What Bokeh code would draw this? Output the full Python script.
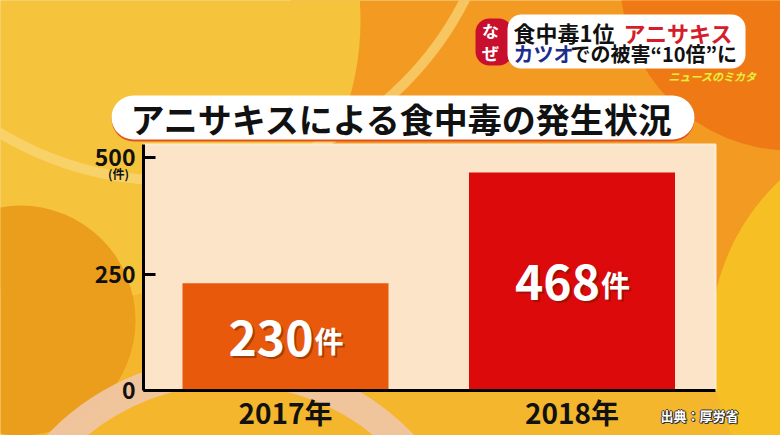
from bokeh.plotting import figure
from bokeh.models import ColumnDataSource, FixedTicker, LinearAxis
from bokeh.core.properties import value
from bokeh.embed import file_html
from bokeh.resources import INLINE

# ---- data ----
years = ["2017年", "2018年"]
cases = [230, 468]
y_ticks = [0, 250, 500]
unit = "件"
title_text = "アニサキスによる食中毒の発生状況"
source_text = "出典：厚労省"

BAR_COLORS = ["#E8590C", "#DC0A0A"]
FONT = value("Noto Sans CJK JP")

W, H = 780, 435
# reference-pixel -> data helpers (for decoration placement)
X0, XS = 285.0, 286.5
Y0, YS = 390.0, 0.466
def dx(X):
    return (X - X0) / XS
def dy(Y):
    return (Y0 - Y) / YS

p = figure(width=W, height=H, x_range=(dx(0), dx(W)), y_range=(dy(H), dy(0)),
           output_backend="svg", toolbar_location=None, min_border=0,
           x_axis_type=None, y_axis_type=None)
p.outline_line_color = None
p.background_fill_color = "#F4B62C"
p.border_fill_color = "#F4B62C"

# ---- decorative background ----
def disc(X, Y, R, color, alpha=1.0):
    p.scatter(x=[dx(X)], y=[dy(Y)], size=2 * R, fill_color=color, fill_alpha=alpha,
              line_color=None)
def ring(X, Y, R, color, w, alpha=1.0):
    p.scatter(x=[dx(X)], y=[dy(Y)], size=2 * R, fill_color=None, line_color=color,
              line_width=w, line_alpha=alpha)

disc(620, 20, 330, "#F29A22")
disc(80, 20, 280, "#F6C43C")
ring(170, -150, 330, "#F9D97A", 10, 0.7)
disc(790, -20, 170, "#EF7A15")
disc(930, 340, 220, "#F6BF24")
disc(20, 320, 115, "#EA9E1C")
ring(230, 610, 240, "#F1C7A8", 28, 0.9)

# ---- plot panel ----
p.quad(left=[dx(143)], right=[dx(715)], bottom=[0], top=[dy(144)],
       fill_color="#FBE4C8", line_color="#FCEBD6", line_width=2)

# ---- bars ----
xs = list(range(len(years)))
src = ColumnDataSource(dict(
    x=xs, top=cases, color=BAR_COLORS, mid=[c / 2 for c in cases],
    num=[str(c) for c in cases], unit=[unit] * len(cases)))
p.vbar(x="x", top="top", bottom=0, width=(388 - 182) / XS, fill_color="color",
       line_color=None, source=src)

for off, col, alpha in [(2, "#5a1a00", 0.45), (0, "white", 1.0)]:
    p.text(x="x", y="mid", text="num", source=src, text_font=FONT, text_font_style="bold",
           text_font_size="48px", text_align="right", text_baseline="middle",
           x_offset=28 + off, y_offset=1 + off, text_color=col, text_alpha=alpha)
    p.text(x="x", y="mid", text="unit", source=src, text_font=FONT, text_font_style="bold",
           text_font_size="29px", text_align="left", text_baseline="middle",
           x_offset=29 + off, y_offset=3 + off, text_color=col, text_alpha=alpha)

# ---- axes ----
yax = LinearAxis(fixed_location=dx(143), ticker=FixedTicker(ticks=y_ticks),
                 bounds=(0, dy(144)))
yax.axis_line_color = "black"
yax.axis_line_width = 3
yax.major_tick_in = 12
yax.major_tick_out = 0
yax.major_tick_line_width = 3
yax.major_tick_line_color = "black"
yax.minor_tick_line_color = None
yax.major_label_standoff = 8
yax.major_label_text_font = "Noto Sans CJK JP"
yax.major_label_text_font_style = "bold"
yax.major_label_text_font_size = "23px"
yax.major_label_text_color = "#111111"
p.add_layout(yax, "left")

xax = LinearAxis(fixed_location=0, ticker=FixedTicker(ticks=xs),
                 major_label_overrides={i: y for i, y in enumerate(years)},
                 bounds=(dx(143), dx(715)))
xax.axis_line_color = "black"
xax.axis_line_width = 3
xax.major_tick_line_color = None
xax.minor_tick_line_color = None
xax.major_label_standoff = -5
xax.major_label_text_font = "Noto Sans CJK JP"
xax.major_label_text_font_style = "bold"
xax.major_label_text_font_size = "28px"
xax.major_label_text_color = "#111111"
p.add_layout(xax, "below")

p.text(x=[dx(118)], y=[dy(173)], text=["(" + unit + ")"], text_font=FONT,
       text_font_style="bold", text_font_size="12px", text_align="center",
       text_baseline="middle", text_color="#111111")

# ---- title pill ----
p.quad(left=[dx(111)], right=[dx(694)], top=[dy(96)], bottom=[dy(141)],
       fill_color="#E2511C", line_color=None, border_radius=23)
p.quad(left=[dx(111)], right=[dx(694)], top=[dy(95)], bottom=[dy(139)],
       fill_color="white", line_color=None, border_radius=22)
p.text(x=[dx(402)], y=[dy(118)], text=[title_text], text_font=FONT,
       text_font_style="bold", text_font_size="34px", text_align="center",
       text_baseline="middle", text_color="#111111")

# ---- header box ----
p.quad(left=[dx(475)], right=[dx(512)], top=[dy(18)], bottom=[dy(65)],
       fill_color="#C8102E", line_color=None, border_radius=14)
p.quad(left=[dx(507)], right=[dx(745)], top=[dy(14)], bottom=[dy(68)],
       fill_color="white", line_color=None, border_radius=14)
for ch, Y in [("な", 30), ("ぜ", 52)]:
    p.text(x=[dx(490)], y=[dy(Y)], text=[ch], text_font=FONT, text_font_style="bold",
           text_font_size="17px", text_align="center", text_baseline="middle",
           text_color="white")
for txt, X, Y, col, fs in [("食中毒1位", 513, 31, "#111111", "22px"),
                           ("アニサキス", 623, 31, "#D41E2A", "22px"),
                           ("カツオ", 513, 53, "#1E2C8C", "20px"),
                           ("での被害“10倍”に", 570, 53, "#111111", "20px")]:
    p.text(x=[dx(X)], y=[dy(Y)], text=[txt], text_font=FONT, text_font_style="bold",
           text_font_size=fs, text_align="left", text_baseline="middle",
           text_color=col)
p.text(x=[dx(712)], y=[dy(75)], text=["ニュースのミカタ"], text_font=FONT,
       text_font_style="bold italic", text_font_size="11px", text_align="center",
       text_baseline="middle", text_color="#E6F03C")

# ---- source note ----
for ox, oy in [(-1, 0), (1, 0), (0, -1), (0, 1), (1, 1)]:
    p.text(x=[dx(660)], y=[dy(415)], text=[source_text], text_font=FONT,
           text_font_style="bold", text_font_size="13px", text_align="left",
           text_baseline="middle", text_color="#333333", x_offset=ox, y_offset=oy)
p.text(x=[dx(660)], y=[dy(415)], text=[source_text], text_font=FONT,
       text_font_style="bold", text_font_size="13px", text_align="left",
       text_baseline="middle", text_color="white")

open("out.html", "w").write(file_html(p, INLINE))
